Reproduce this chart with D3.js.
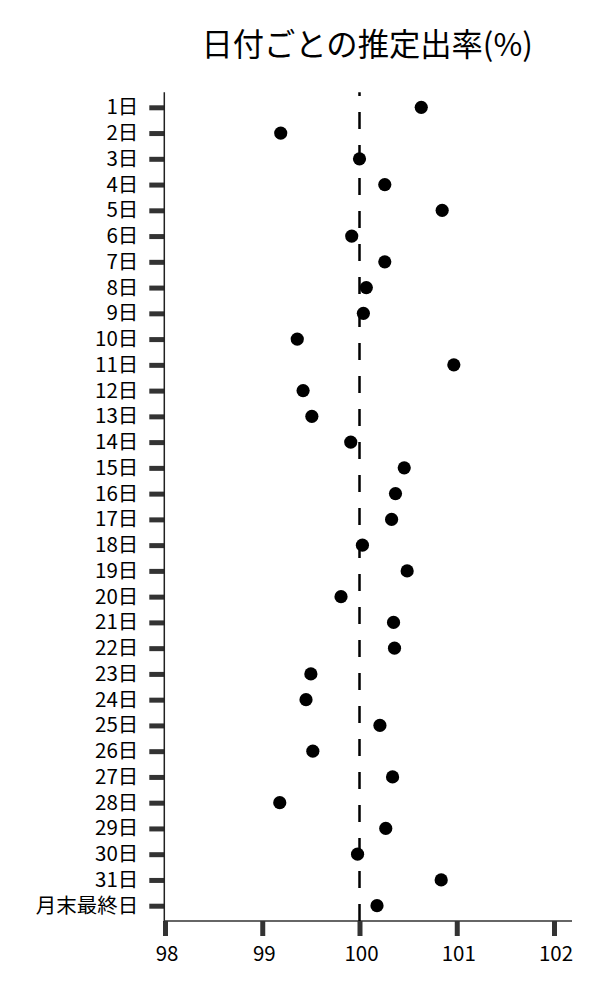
<!DOCTYPE html>
<html><head><meta charset="utf-8">
<script src="https://cdn.jsdelivr.net/npm/d3@7"></script>
<style>body{margin:0;background:#fff}svg{display:block}text{font-family:"Noto Sans CJK JP","Noto Sans",sans-serif}</style>
</head><body>
<svg id="c" width="600" height="1000"></svg>
<script>
const title = "日付ごとの推定出率(%)";
const categories = ["1日","2日","3日","4日","5日","6日","7日","8日","9日","10日","11日","12日","13日","14日","15日","16日","17日","18日","19日","20日","21日","22日","23日","24日","25日","26日","27日","28日","29日","30日","31日","月末最終日"];
const values = [100.635,99.19,100.00,100.26,100.85,99.92,100.26,100.07,100.04,99.36,100.97,99.42,99.51,99.91,100.46,100.37,100.33,100.03,100.49,99.81,100.35,100.36,99.50,99.45,100.21,99.52,100.34,99.18,100.27,99.98,100.84,100.18];
const xTicks = [98,99,100,101,102];
const refValue = 100;

(function(){
const svg = d3.select("#c");
const pLeft = 164.3, pRight = 572, pTop = 92.3, pBottom = 921;
const x = d3.scaleLinear().domain([98,102]).range([165,554]);
const y = d3.scalePoint().domain(categories).range([107.3,905.7]);

svg.append("text").attr("x",(pLeft+pRight)/2 - 1).attr("y",56).attr("text-anchor","middle")
  .attr("font-size",31.3).attr("fill","#000").text(title);

const xa = svg.append("g").attr("transform",`translate(0,${pBottom})`)
  .call(d3.axisBottom(x).tickValues(xTicks).tickSize(15).tickPadding(10).tickFormat(d3.format("d")));
xa.select(".domain").remove();
xa.selectAll(".tick line").attr("stroke","#333").attr("stroke-width",5);
xa.selectAll(".tick text").attr("font-size",20.5).attr("fill","#000").attr("dx",1.5).attr("font-family",'"Noto Sans CJK JP",sans-serif');

const ya = svg.append("g").attr("transform",`translate(${pLeft},0)`)
  .call(d3.axisLeft(y).tickSize(15).tickPadding(11));
ya.select(".domain").remove();
ya.selectAll(".tick line").attr("stroke","#333").attr("stroke-width",5);
ya.selectAll(".tick text").attr("font-size",20.5).attr("fill","#000").attr("font-family",'"Noto Sans CJK JP",sans-serif');

svg.append("line").attr("x1",pLeft).attr("x2",pLeft).attr("y1",pTop).attr("y2",pBottom+0.75)
  .attr("stroke","#222").attr("stroke-width",1.5);
svg.append("line").attr("x1",pLeft).attr("x2",pRight).attr("y1",pBottom).attr("y2",pBottom)
  .attr("stroke","#333").attr("stroke-width",1.5);

svg.append("line").attr("x1",x(refValue)).attr("x2",x(refValue)).attr("y1",pBottom).attr("y2",pTop)
  .attr("stroke","#000").attr("stroke-width",2.5).attr("stroke-dasharray","17,16");

svg.append("g").selectAll("circle").data(values).join("circle")
  .attr("cx",d=>x(d)).attr("cy",(d,i)=>y(categories[i])).attr("r",6.6).attr("fill","#000");
})();
</script>
</body></html>
